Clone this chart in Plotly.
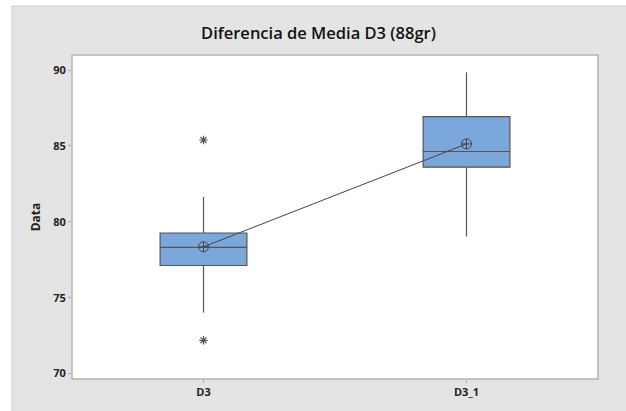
import plotly.graph_objects as go

categories = ["D3", "D3_1"]
q1 = [77.12, 83.6]
median = [78.31, 84.63]
q3 = [79.26, 86.93]
lower_whisker = [74.03, 79.03]
upper_whisker = [81.63, 89.85]
means = [78.35, 85.13]
outlier_cat = ["D3", "D3"]
outlier_val = [85.39, 72.19]
y_ticks = [70, 75, 80, 85, 90]

W, H = 626, 411
ml, mr, mt, mb = 72, 28, 55, 32
pw, ph = W - ml - mr, H - mt - mb

def px_x(p):
    return (p - ml) / pw

def px_y(p):
    return (H - mb - p) / ph

fig = go.Figure()
fig.add_trace(go.Box(
    x=categories, q1=q1, median=median, q3=q3,
    lowerfence=lower_whisker, upperfence=upper_whisker,
    fillcolor="#7BA7DA", line=dict(color="#555555", width=1.2),
    whiskerwidth=0, width=0.33, boxpoints=False, showlegend=False,
    hoverinfo="skip"))
fig.add_trace(go.Scatter(
    x=outlier_cat, y=outlier_val, mode="markers",
    marker=dict(symbol="asterisk-open", size=7, color="#555555",
                line=dict(width=1.2, color="#555555")),
    showlegend=False))
fig.add_trace(go.Scatter(
    x=categories, y=means, mode="lines+markers",
    line=dict(color="#444444", width=1),
    marker=dict(symbol="circle-cross-open", size=10, color="#444444",
                line=dict(width=1, color="#444444")),
    showlegend=False))

font_family = "Open Sans, Noto Sans, DejaVu Sans"
fig.update_layout(
    width=W, height=H,
    margin=dict(l=ml, r=mr, t=mt, b=mb),
    paper_bgcolor="white", plot_bgcolor="rgba(0,0,0,0)",
    font=dict(family=font_family, color="#222222"),
    title=dict(text="Diferencia de Media D3 (88gr)", x=318.5 / W, xref="container",
               xanchor="center", y=1 - 33 / H, yanchor="middle",
               font=dict(size=16.5, color="#111111", weight=600)),
    shapes=[
        dict(type="rect", xref="paper", yref="paper",
             x0=px_x(12), x1=px_x(W + 5), y0=px_y(H + 5), y1=px_y(6),
             fillcolor="#E4E4E4", line=dict(color="#CFCFCF", width=1), layer="below"),
        dict(type="rect", xref="paper", yref="paper",
             x0=0, x1=1, y0=0, y1=1,
             fillcolor="white", line=dict(color="#B4B4B4", width=1.5), layer="below"),
    ],
)
fig.update_xaxes(
    type="category", range=[-0.5, 1.5], showgrid=False, zeroline=False,
    ticks="outside", ticklen=3, tickcolor="#AAAAAA",
    tickfont=dict(size=11, color="#222222", family=font_family),
    tickvals=categories, ticktext=["<b>" + c + "</b>" for c in categories],
    showline=False)
fig.update_yaxes(
    range=[69.64, 90.99], showgrid=False, zeroline=False,
    tickvals=y_ticks, ticktext=["<b>%d</b>" % v for v in y_ticks],
    ticks="outside", ticklen=3, tickcolor="#AAAAAA",
    tickfont=dict(size=11, color="#222222", family=font_family),
    title=dict(text="<b>Data</b>", font=dict(size=12, color="#222222"), standoff=10),
    showline=False)

fig.write_html("out.html", config={"displayModeBar": False},
               post_script="document.body.style.margin='0';document.body.style.overflow='hidden';")
